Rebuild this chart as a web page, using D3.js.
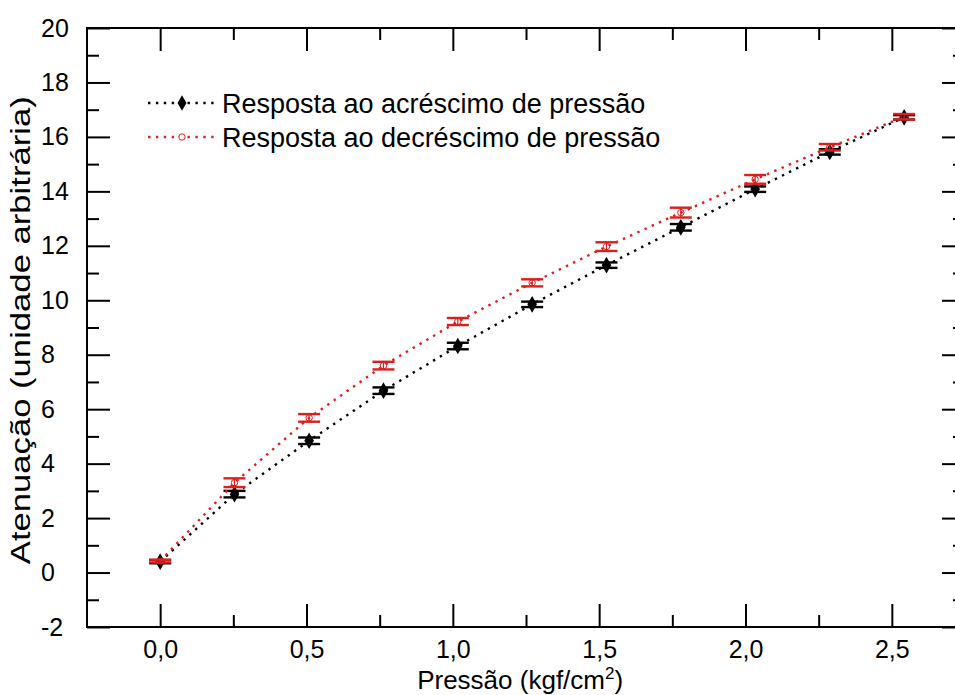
<!DOCTYPE html>
<html>
<head>
<meta charset="utf-8">
<script src="https://cdn.jsdelivr.net/npm/d3@7"></script>
<style>
  body { margin: 0; background: #fff; }
  svg { font-family: Arial, "Liberation Sans", sans-serif; }
</style>
</head>
<body>
<div id="chart"></div>
<script>
// data
var pressure = [0.0, 0.254, 0.509, 0.763, 1.017, 1.271, 1.525, 1.779, 2.033, 2.288, 2.542];
var upValues = [0.40, 2.88, 4.84, 6.68, 8.32, 9.85, 11.29, 12.68, 14.08, 15.45, 16.72];
var upErrors = [0.06, 0.12, 0.12, 0.12, 0.12, 0.10, 0.10, 0.12, 0.10, 0.10, 0.08];
var downValues = [0.42, 3.30, 5.68, 7.60, 9.22, 10.64, 11.97, 13.22, 14.44, 15.62, 16.74];
var downErrors = [0.05, 0.16, 0.14, 0.14, 0.13, 0.13, 0.16, 0.18, 0.16, 0.12, 0.10];
var legendLabels = ["Resposta ao acréscimo de pressão", "Resposta ao decréscimo de pressão"];
var xMajorTicks = [0, 0.5, 1.0, 1.5, 2.0, 2.5];
var xMinorTicks = [0.25, 0.75, 1.25, 1.75, 2.25];
var yMajorTicks = [-2, 0, 2, 4, 6, 8, 10, 12, 14, 16, 18, 20];
var yMinorTicks = [-1, 1, 3, 5, 7, 9, 11, 13, 15, 17, 19];

var svgWidth = 955;
var svgHeight = 695;
var margin = {top: 28, left: 87};
var width = 878;   // right edge of the frame sits just outside the picture
var height = 599;

var red = "#dc1e1e";

var svg = d3.select("#chart")
  .append("svg")
  .attr("width", svgWidth)
  .attr("height", svgHeight);

var chartGroup = svg.append("g")
  .attr("transform", `translate(${margin.left}, ${margin.top})`);

var xScale = d3.scaleLinear().domain([-0.25, 2.75]).range([0, width]);
var yScale = d3.scaleLinear().domain([-2, 20]).range([height, 0]);

var fmt = d => d3.format(".1f")(d).replace(".", ",");

// axes, ticks pointing inwards
function addAxis(axis, transform) {
  var g = chartGroup.append("g").attr("transform", transform).call(axis);
  g.select(".domain").remove();
  g.selectAll("line").attr("stroke", "#000").attr("stroke-width", 2);
  g.selectAll("text").attr("font-size", 25).attr("fill", "#000");
  return g;
}

addAxis(d3.axisBottom(xScale).tickValues(xMajorTicks).tickSize(-23).tickPadding(13).tickFormat(fmt),
  `translate(0, ${height})`);
addAxis(d3.axisBottom(xScale).tickValues(xMinorTicks).tickSize(-12).tickFormat(""),
  `translate(0, ${height})`);
addAxis(d3.axisTop(xScale).tickValues(xMajorTicks).tickSize(-23).tickFormat(""), "translate(0,0)");
addAxis(d3.axisTop(xScale).tickValues(xMinorTicks).tickSize(-12).tickFormat(""), "translate(0,0)");
var yAxisG = addAxis(d3.axisLeft(yScale).tickValues(yMajorTicks).tickSize(-23).tickFormat(d => String(d)),
  "translate(0,0)");
// labels sit left-aligned in the margin
yAxisG.selectAll("text").attr("text-anchor", "start").attr("x", -46);
addAxis(d3.axisLeft(yScale).tickValues(yMinorTicks).tickSize(-12).tickFormat(""), "translate(0,0)");
addAxis(d3.axisRight(yScale).tickValues(yMajorTicks).tickSize(-23).tickFormat(""), `translate(${width},0)`);
addAxis(d3.axisRight(yScale).tickValues(yMinorTicks).tickSize(-12).tickFormat(""), `translate(${width},0)`);

// frame
chartGroup.append("rect")
  .attr("width", width)
  .attr("height", height)
  .attr("fill", "none")
  .attr("stroke", "#000")
  .attr("stroke-width", 2);

// axis titles
var xTitle = chartGroup.append("text")
  .attr("x", xScale(1.23))
  .attr("y", height + 62)
  .attr("text-anchor", "middle")
  .attr("font-size", 26);
xTitle.append("tspan").text("Pressão (kgf/cm");
xTitle.append("tspan").attr("dy", -10).attr("font-size", 17).text("2");
xTitle.append("tspan").attr("dy", 10).text(")");

chartGroup.append("text")
  .attr("transform", "rotate(-90)")
  .attr("x", -yScale(8.9))
  .attr("y", -57)
  .attr("text-anchor", "middle")
  .attr("font-size", 27)
  .attr("textLength", 468)
  .attr("lengthAdjust", "spacingAndGlyphs")
  .text("Atenuação (unidade arbitrária)");

var series = [
  {values: upValues, errors: upErrors, color: "#000", marker: "diamond"},
  {values: downValues, errors: downErrors, color: red, marker: "circle"}
];

var line = d3.line()
  .x((d, i) => xScale(pressure[i]))
  .y(d => yScale(d));

series.forEach(function(s) {
  var g = chartGroup.append("g");

  g.append("path")
    .datum(s.values)
    .attr("d", line)
    .attr("fill", "none")
    .attr("stroke", s.color)
    .attr("stroke-width", 2.4)
    .attr("stroke-dasharray", "2.4,5.5");

  var pts = s.values.map((v, i) => ({x: pressure[i], y: v, e: s.errors[i]}));

  // error bars
  var bars = g.selectAll(".err").data(pts).enter().append("g");
  bars.append("line")
    .attr("x1", d => xScale(d.x)).attr("x2", d => xScale(d.x))
    .attr("y1", d => yScale(d.y - d.e)).attr("y2", d => yScale(d.y + d.e))
    .attr("stroke", s.color).attr("stroke-width", 1.2);
  [-1, 1].forEach(function(sign) {
    bars.append("line")
      .attr("x1", d => xScale(d.x) - 11).attr("x2", d => xScale(d.x) + 11)
      .attr("y1", d => yScale(d.y + sign * d.e)).attr("y2", d => yScale(d.y + sign * d.e))
      .attr("stroke", s.color).attr("stroke-width", 2.4);
  });

  if (s.marker === "diamond") {
    g.selectAll(".pt").data(pts).enter().append("path")
      .attr("d", d3.symbol().type(d3.symbolDiamond).size(80))
      .attr("transform", d => `translate(${xScale(d.x)},${yScale(d.y)})`)
      .attr("fill", "#000");
  } else {
    g.selectAll(".pt").data(pts).enter().append("circle")
      .attr("cx", d => xScale(d.x))
      .attr("cy", d => yScale(d.y))
      .attr("r", 3.2)
      .attr("fill", "none")
      .attr("stroke", red)
      .attr("stroke-width", 1);
  }
});

// legend
var legend = svg.append("g");
series.forEach(function(s, i) {
  var ly = 103 + i * 34;
  legend.append("line")
    .attr("x1", 148).attr("x2", 215)
    .attr("y1", ly).attr("y2", ly)
    .attr("stroke", s.color)
    .attr("stroke-width", 2.4)
    .attr("stroke-dasharray", "2.4,5.5");
  if (s.marker === "diamond") {
    legend.append("path")
      .attr("d", d3.symbol().type(d3.symbolDiamond).size(70))
      .attr("transform", `translate(182,${ly})`)
      .attr("fill", "#000");
  } else {
    legend.append("circle")
      .attr("cx", 182).attr("cy", ly).attr("r", 3.2)
      .attr("fill", "#fff").attr("stroke", red).attr("stroke-width", 1);
  }
  legend.append("text")
    .attr("x", 222)
    .attr("y", ly + 10)
    .attr("font-size", 27)
    .text(legendLabels[i]);
});
</script>
</body>
</html>
